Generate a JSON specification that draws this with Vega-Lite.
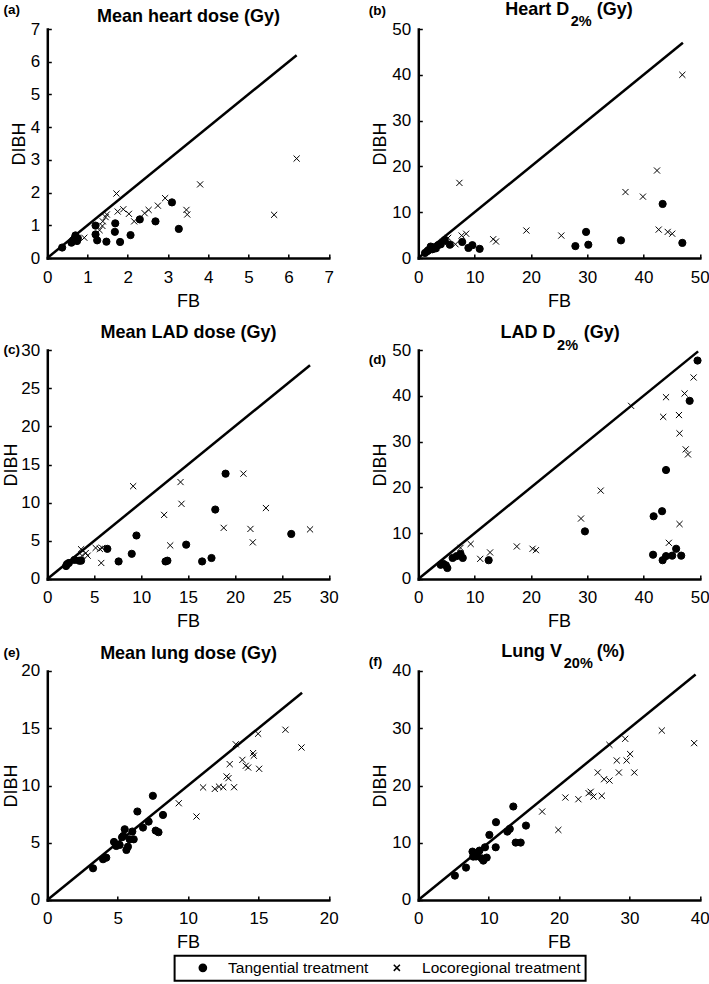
{
  "$schema": "https://vega.github.io/schema/vega-lite/v6.json",
  "padding": {"left": 1.3, "top": 0, "right": 2, "bottom": 0},
  "bounds": "flush",
  "columns": 2,
  "spacing": {"row": 92, "column": 89},
  "resolve": {"scale": {"shape": "shared"}, "legend": {"shape": "shared"}},
  "datasets": {
    "a_line": [{"fb": 0, "dibh": 0}, {"fb": 6.2, "dibh": 6.2}],
    "b_line": [{"fb": 0, "dibh": 0}, {"fb": 47, "dibh": 47}],
    "c_line": [{"fb": 0, "dibh": 0}, {"fb": 28, "dibh": 28}],
    "d_line": [{"fb": 0, "dibh": 0}, {"fb": 49.7, "dibh": 49.7}],
    "e_line": [{"fb": 0, "dibh": 0}, {"fb": 18.1, "dibh": 18.1}],
    "f_line": [{"fb": 0, "dibh": 0}, {"fb": 39.4, "dibh": 39.4}],
    "a_pts": [
      {"fb": 0.37, "dibh": 0.32, "group": "Tangential treatment"},
      {"fb": 0.6, "dibh": 0.47, "group": "Tangential treatment"},
      {"fb": 0.64, "dibh": 0.54, "group": "Tangential treatment"},
      {"fb": 0.68, "dibh": 0.6, "group": "Tangential treatment"},
      {"fb": 0.7, "dibh": 0.69, "group": "Tangential treatment"},
      {"fb": 0.74, "dibh": 0.52, "group": "Tangential treatment"},
      {"fb": 0.76, "dibh": 0.6, "group": "Tangential treatment"},
      {"fb": 1.2, "dibh": 0.99, "group": "Tangential treatment"},
      {"fb": 1.2, "dibh": 0.72, "group": "Tangential treatment"},
      {"fb": 1.24, "dibh": 0.54, "group": "Tangential treatment"},
      {"fb": 1.47, "dibh": 0.5, "group": "Tangential treatment"},
      {"fb": 1.69, "dibh": 1.06, "group": "Tangential treatment"},
      {"fb": 1.68, "dibh": 0.8, "group": "Tangential treatment"},
      {"fb": 1.81, "dibh": 0.49, "group": "Tangential treatment"},
      {"fb": 2.07, "dibh": 0.7, "group": "Tangential treatment"},
      {"fb": 2.3, "dibh": 1.18, "group": "Tangential treatment"},
      {"fb": 2.69, "dibh": 1.12, "group": "Tangential treatment"},
      {"fb": 3.1, "dibh": 1.7, "group": "Tangential treatment"},
      {"fb": 3.27, "dibh": 0.89, "group": "Tangential treatment"},
      {"fb": 0.92, "dibh": 0.62, "group": "Locoregional treatment"},
      {"fb": 1.3, "dibh": 0.85, "group": "Locoregional treatment"},
      {"fb": 1.37, "dibh": 0.98, "group": "Locoregional treatment"},
      {"fb": 1.38, "dibh": 1.12, "group": "Locoregional treatment"},
      {"fb": 1.45, "dibh": 1.25, "group": "Locoregional treatment"},
      {"fb": 1.48, "dibh": 1.33, "group": "Locoregional treatment"},
      {"fb": 1.72, "dibh": 1.97, "group": "Locoregional treatment"},
      {"fb": 1.75, "dibh": 1.42, "group": "Locoregional treatment"},
      {"fb": 1.89, "dibh": 1.49, "group": "Locoregional treatment"},
      {"fb": 2.03, "dibh": 1.35, "group": "Locoregional treatment"},
      {"fb": 2.16, "dibh": 1.12, "group": "Locoregional treatment"},
      {"fb": 2.42, "dibh": 1.37, "group": "Locoregional treatment"},
      {"fb": 2.52, "dibh": 1.47, "group": "Locoregional treatment"},
      {"fb": 2.75, "dibh": 1.6, "group": "Locoregional treatment"},
      {"fb": 2.93, "dibh": 1.83, "group": "Locoregional treatment"},
      {"fb": 3.46, "dibh": 1.47, "group": "Locoregional treatment"},
      {"fb": 3.48, "dibh": 1.33, "group": "Locoregional treatment"},
      {"fb": 3.8, "dibh": 2.25, "group": "Locoregional treatment"},
      {"fb": 5.64, "dibh": 1.32, "group": "Locoregional treatment"},
      {"fb": 6.2, "dibh": 3.04, "group": "Locoregional treatment"}
    ],
    "b_pts": [
      {"fb": 1.2, "dibh": 1.1, "group": "Tangential treatment"},
      {"fb": 1.6, "dibh": 1.5, "group": "Tangential treatment"},
      {"fb": 1.8, "dibh": 1.7, "group": "Tangential treatment"},
      {"fb": 2.2, "dibh": 2.5, "group": "Tangential treatment"},
      {"fb": 2.5, "dibh": 1.9, "group": "Tangential treatment"},
      {"fb": 2.8, "dibh": 2.3, "group": "Tangential treatment"},
      {"fb": 3.1, "dibh": 2.1, "group": "Tangential treatment"},
      {"fb": 3.5, "dibh": 2.8, "group": "Tangential treatment"},
      {"fb": 4.0, "dibh": 3.0, "group": "Tangential treatment"},
      {"fb": 4.7, "dibh": 3.9, "group": "Tangential treatment"},
      {"fb": 5.6, "dibh": 2.9, "group": "Tangential treatment"},
      {"fb": 7.8, "dibh": 3.5, "group": "Tangential treatment"},
      {"fb": 8.9, "dibh": 2.2, "group": "Tangential treatment"},
      {"fb": 9.6, "dibh": 2.8, "group": "Tangential treatment"},
      {"fb": 10.9, "dibh": 2.0, "group": "Tangential treatment"},
      {"fb": 27.9, "dibh": 2.6, "group": "Tangential treatment"},
      {"fb": 29.8, "dibh": 5.7, "group": "Tangential treatment"},
      {"fb": 30.2, "dibh": 2.9, "group": "Tangential treatment"},
      {"fb": 36.0, "dibh": 3.85, "group": "Tangential treatment"},
      {"fb": 43.4, "dibh": 11.8, "group": "Tangential treatment"},
      {"fb": 46.9, "dibh": 3.3, "group": "Tangential treatment"},
      {"fb": 3.2, "dibh": 2.4, "group": "Locoregional treatment"},
      {"fb": 4.4, "dibh": 3.5, "group": "Locoregional treatment"},
      {"fb": 5.3, "dibh": 4.4, "group": "Locoregional treatment"},
      {"fb": 6.6, "dibh": 3.0, "group": "Locoregional treatment"},
      {"fb": 7.3, "dibh": 16.4, "group": "Locoregional treatment"},
      {"fb": 7.7, "dibh": 4.9, "group": "Locoregional treatment"},
      {"fb": 8.5, "dibh": 5.3, "group": "Locoregional treatment"},
      {"fb": 13.3, "dibh": 4.1, "group": "Locoregional treatment"},
      {"fb": 13.8, "dibh": 3.6, "group": "Locoregional treatment"},
      {"fb": 19.2, "dibh": 6.0, "group": "Locoregional treatment"},
      {"fb": 25.4, "dibh": 4.9, "group": "Locoregional treatment"},
      {"fb": 36.8, "dibh": 14.4, "group": "Locoregional treatment"},
      {"fb": 39.9, "dibh": 13.4, "group": "Locoregional treatment"},
      {"fb": 42.4, "dibh": 19.1, "group": "Locoregional treatment"},
      {"fb": 42.7, "dibh": 6.2, "group": "Locoregional treatment"},
      {"fb": 44.3, "dibh": 5.7, "group": "Locoregional treatment"},
      {"fb": 45.1, "dibh": 5.3, "group": "Locoregional treatment"},
      {"fb": 46.9, "dibh": 40.0, "group": "Locoregional treatment"}
    ],
    "c_pts": [
      {"fb": 2.0, "dibh": 1.7, "group": "Tangential treatment"},
      {"fb": 2.1, "dibh": 1.95, "group": "Tangential treatment"},
      {"fb": 2.3, "dibh": 2.1, "group": "Tangential treatment"},
      {"fb": 2.9, "dibh": 2.5, "group": "Tangential treatment"},
      {"fb": 3.4, "dibh": 2.4, "group": "Tangential treatment"},
      {"fb": 3.6, "dibh": 2.4, "group": "Tangential treatment"},
      {"fb": 6.4, "dibh": 3.95, "group": "Tangential treatment"},
      {"fb": 7.6, "dibh": 2.3, "group": "Tangential treatment"},
      {"fb": 9.0, "dibh": 3.3, "group": "Tangential treatment"},
      {"fb": 9.5, "dibh": 5.7, "group": "Tangential treatment"},
      {"fb": 12.6, "dibh": 2.3, "group": "Tangential treatment"},
      {"fb": 12.8, "dibh": 2.4, "group": "Tangential treatment"},
      {"fb": 14.8, "dibh": 4.5, "group": "Tangential treatment"},
      {"fb": 16.5, "dibh": 2.3, "group": "Tangential treatment"},
      {"fb": 17.5, "dibh": 2.75, "group": "Tangential treatment"},
      {"fb": 17.9, "dibh": 9.1, "group": "Tangential treatment"},
      {"fb": 19.0, "dibh": 13.8, "group": "Tangential treatment"},
      {"fb": 26.0, "dibh": 5.9, "group": "Tangential treatment"},
      {"fb": 3.6, "dibh": 3.9, "group": "Locoregional treatment"},
      {"fb": 3.7, "dibh": 3.06, "group": "Locoregional treatment"},
      {"fb": 4.1, "dibh": 3.4, "group": "Locoregional treatment"},
      {"fb": 4.3, "dibh": 3.06, "group": "Locoregional treatment"},
      {"fb": 5.15, "dibh": 4.07, "group": "Locoregional treatment"},
      {"fb": 5.6, "dibh": 3.94, "group": "Locoregional treatment"},
      {"fb": 5.75, "dibh": 2.1, "group": "Locoregional treatment"},
      {"fb": 5.85, "dibh": 4.07, "group": "Locoregional treatment"},
      {"fb": 9.15, "dibh": 12.16, "group": "Locoregional treatment"},
      {"fb": 12.45, "dibh": 8.4, "group": "Locoregional treatment"},
      {"fb": 13.1, "dibh": 4.4, "group": "Locoregional treatment"},
      {"fb": 14.2, "dibh": 12.7, "group": "Locoregional treatment"},
      {"fb": 14.3, "dibh": 9.85, "group": "Locoregional treatment"},
      {"fb": 18.8, "dibh": 6.7, "group": "Locoregional treatment"},
      {"fb": 20.9, "dibh": 13.8, "group": "Locoregional treatment"},
      {"fb": 21.65, "dibh": 6.56, "group": "Locoregional treatment"},
      {"fb": 21.9, "dibh": 4.8, "group": "Locoregional treatment"},
      {"fb": 23.3, "dibh": 9.3, "group": "Locoregional treatment"},
      {"fb": 28.0, "dibh": 6.5, "group": "Locoregional treatment"}
    ],
    "d_pts": [
      {"fb": 3.97, "dibh": 3.1, "group": "Tangential treatment"},
      {"fb": 4.45, "dibh": 3.3, "group": "Tangential treatment"},
      {"fb": 4.9, "dibh": 3.0, "group": "Tangential treatment"},
      {"fb": 5.16, "dibh": 2.4, "group": "Tangential treatment"},
      {"fb": 6.1, "dibh": 4.6, "group": "Tangential treatment"},
      {"fb": 6.8, "dibh": 5.0, "group": "Tangential treatment"},
      {"fb": 7.5, "dibh": 5.5, "group": "Tangential treatment"},
      {"fb": 7.9, "dibh": 4.6, "group": "Tangential treatment"},
      {"fb": 12.5, "dibh": 4.1, "group": "Tangential treatment"},
      {"fb": 29.6, "dibh": 10.4, "group": "Tangential treatment"},
      {"fb": 41.7, "dibh": 5.3, "group": "Tangential treatment"},
      {"fb": 41.8, "dibh": 13.7, "group": "Tangential treatment"},
      {"fb": 43.3, "dibh": 14.8, "group": "Tangential treatment"},
      {"fb": 43.4, "dibh": 4.1, "group": "Tangential treatment"},
      {"fb": 44.0, "dibh": 23.8, "group": "Tangential treatment"},
      {"fb": 44.0, "dibh": 5.0, "group": "Tangential treatment"},
      {"fb": 45.1, "dibh": 5.1, "group": "Tangential treatment"},
      {"fb": 45.8, "dibh": 6.6, "group": "Tangential treatment"},
      {"fb": 46.7, "dibh": 5.1, "group": "Tangential treatment"},
      {"fb": 48.2, "dibh": 38.9, "group": "Tangential treatment"},
      {"fb": 49.6, "dibh": 47.7, "group": "Tangential treatment"},
      {"fb": 7.5, "dibh": 6.8, "group": "Locoregional treatment"},
      {"fb": 9.3, "dibh": 7.65, "group": "Locoregional treatment"},
      {"fb": 11.0, "dibh": 4.4, "group": "Locoregional treatment"},
      {"fb": 12.75, "dibh": 5.8, "group": "Locoregional treatment"},
      {"fb": 17.5, "dibh": 7.1, "group": "Locoregional treatment"},
      {"fb": 20.3, "dibh": 6.6, "group": "Locoregional treatment"},
      {"fb": 20.9, "dibh": 6.3, "group": "Locoregional treatment"},
      {"fb": 28.9, "dibh": 13.2, "group": "Locoregional treatment"},
      {"fb": 32.4, "dibh": 19.3, "group": "Locoregional treatment"},
      {"fb": 37.8, "dibh": 37.8, "group": "Locoregional treatment"},
      {"fb": 43.5, "dibh": 35.4, "group": "Locoregional treatment"},
      {"fb": 44.0, "dibh": 39.7, "group": "Locoregional treatment"},
      {"fb": 44.5, "dibh": 7.9, "group": "Locoregional treatment"},
      {"fb": 46.3, "dibh": 35.8, "group": "Locoregional treatment"},
      {"fb": 46.4, "dibh": 31.8, "group": "Locoregional treatment"},
      {"fb": 46.4, "dibh": 12.0, "group": "Locoregional treatment"},
      {"fb": 47.3, "dibh": 40.5, "group": "Locoregional treatment"},
      {"fb": 47.5, "dibh": 28.3, "group": "Locoregional treatment"},
      {"fb": 47.9, "dibh": 27.2, "group": "Locoregional treatment"},
      {"fb": 48.9, "dibh": 44.0, "group": "Locoregional treatment"}
    ],
    "e_pts": [
      {"fb": 3.25, "dibh": 2.77, "group": "Tangential treatment"},
      {"fb": 3.96, "dibh": 3.56, "group": "Tangential treatment"},
      {"fb": 4.19, "dibh": 3.7, "group": "Tangential treatment"},
      {"fb": 4.74, "dibh": 5.07, "group": "Tangential treatment"},
      {"fb": 4.9, "dibh": 4.72, "group": "Tangential treatment"},
      {"fb": 5.14, "dibh": 4.81, "group": "Tangential treatment"},
      {"fb": 5.31, "dibh": 5.48, "group": "Tangential treatment"},
      {"fb": 5.4, "dibh": 5.6, "group": "Tangential treatment"},
      {"fb": 5.5, "dibh": 6.18, "group": "Tangential treatment"},
      {"fb": 5.62, "dibh": 4.37, "group": "Tangential treatment"},
      {"fb": 5.73, "dibh": 4.66, "group": "Tangential treatment"},
      {"fb": 5.85, "dibh": 5.3, "group": "Tangential treatment"},
      {"fb": 6.04, "dibh": 5.98, "group": "Tangential treatment"},
      {"fb": 6.14, "dibh": 5.3, "group": "Tangential treatment"},
      {"fb": 6.4, "dibh": 7.73, "group": "Tangential treatment"},
      {"fb": 6.8, "dibh": 6.33, "group": "Tangential treatment"},
      {"fb": 7.2, "dibh": 6.85, "group": "Tangential treatment"},
      {"fb": 7.5, "dibh": 9.1, "group": "Tangential treatment"},
      {"fb": 7.7, "dibh": 6.06, "group": "Tangential treatment"},
      {"fb": 7.9, "dibh": 5.92, "group": "Tangential treatment"},
      {"fb": 8.22, "dibh": 7.43, "group": "Tangential treatment"},
      {"fb": 9.34, "dibh": 8.45, "group": "Locoregional treatment"},
      {"fb": 10.6, "dibh": 7.29, "group": "Locoregional treatment"},
      {"fb": 11.07, "dibh": 9.83, "group": "Locoregional treatment"},
      {"fb": 11.9, "dibh": 9.7, "group": "Locoregional treatment"},
      {"fb": 12.2, "dibh": 9.9, "group": "Locoregional treatment"},
      {"fb": 12.5, "dibh": 9.85, "group": "Locoregional treatment"},
      {"fb": 12.74, "dibh": 10.79, "group": "Locoregional treatment"},
      {"fb": 12.87, "dibh": 10.64, "group": "Locoregional treatment"},
      {"fb": 12.96, "dibh": 11.87, "group": "Locoregional treatment"},
      {"fb": 13.27, "dibh": 9.85, "group": "Locoregional treatment"},
      {"fb": 13.39, "dibh": 13.6, "group": "Locoregional treatment"},
      {"fb": 13.86, "dibh": 12.24, "group": "Locoregional treatment"},
      {"fb": 14.1, "dibh": 11.72, "group": "Locoregional treatment"},
      {"fb": 14.27, "dibh": 11.57, "group": "Locoregional treatment"},
      {"fb": 14.62, "dibh": 12.83, "group": "Locoregional treatment"},
      {"fb": 14.67, "dibh": 12.6, "group": "Locoregional treatment"},
      {"fb": 14.98, "dibh": 14.52, "group": "Locoregional treatment"},
      {"fb": 15.05, "dibh": 11.46, "group": "Locoregional treatment"},
      {"fb": 16.92, "dibh": 14.87, "group": "Locoregional treatment"},
      {"fb": 18.06, "dibh": 13.32, "group": "Locoregional treatment"}
    ],
    "f_pts": [
      {"fb": 5.2, "dibh": 4.26, "group": "Tangential treatment"},
      {"fb": 6.78, "dibh": 5.66, "group": "Tangential treatment"},
      {"fb": 7.7, "dibh": 8.45, "group": "Tangential treatment"},
      {"fb": 7.8, "dibh": 7.58, "group": "Tangential treatment"},
      {"fb": 8.2, "dibh": 7.6, "group": "Tangential treatment"},
      {"fb": 8.4, "dibh": 8.28, "group": "Tangential treatment"},
      {"fb": 8.7, "dibh": 8.63, "group": "Tangential treatment"},
      {"fb": 9.0, "dibh": 7.29, "group": "Tangential treatment"},
      {"fb": 9.24, "dibh": 6.88, "group": "Tangential treatment"},
      {"fb": 9.48, "dibh": 9.21, "group": "Tangential treatment"},
      {"fb": 9.72, "dibh": 7.41, "group": "Tangential treatment"},
      {"fb": 10.1, "dibh": 11.37, "group": "Tangential treatment"},
      {"fb": 11.0, "dibh": 9.21, "group": "Tangential treatment"},
      {"fb": 11.04, "dibh": 13.59, "group": "Tangential treatment"},
      {"fb": 12.65, "dibh": 11.95, "group": "Tangential treatment"},
      {"fb": 13.0, "dibh": 12.42, "group": "Tangential treatment"},
      {"fb": 13.5, "dibh": 16.33, "group": "Tangential treatment"},
      {"fb": 13.84, "dibh": 10.03, "group": "Tangential treatment"},
      {"fb": 14.55, "dibh": 10.03, "group": "Tangential treatment"},
      {"fb": 15.3, "dibh": 13.0, "group": "Tangential treatment"},
      {"fb": 17.6, "dibh": 15.45, "group": "Locoregional treatment"},
      {"fb": 19.9, "dibh": 12.24, "group": "Locoregional treatment"},
      {"fb": 20.9, "dibh": 17.9, "group": "Locoregional treatment"},
      {"fb": 22.75, "dibh": 17.6, "group": "Locoregional treatment"},
      {"fb": 24.2, "dibh": 18.66, "group": "Locoregional treatment"},
      {"fb": 24.5, "dibh": 18.9, "group": "Locoregional treatment"},
      {"fb": 24.9, "dibh": 18.07, "group": "Locoregional treatment"},
      {"fb": 26.07, "dibh": 18.2, "group": "Locoregional treatment"},
      {"fb": 25.5, "dibh": 22.27, "group": "Locoregional treatment"},
      {"fb": 26.4, "dibh": 21.1, "group": "Locoregional treatment"},
      {"fb": 27.16, "dibh": 20.87, "group": "Locoregional treatment"},
      {"fb": 27.16, "dibh": 27.1, "group": "Locoregional treatment"},
      {"fb": 28.2, "dibh": 24.37, "group": "Locoregional treatment"},
      {"fb": 28.5, "dibh": 22.27, "group": "Locoregional treatment"},
      {"fb": 29.4, "dibh": 28.16, "group": "Locoregional treatment"},
      {"fb": 29.6, "dibh": 24.37, "group": "Locoregional treatment"},
      {"fb": 30.1, "dibh": 25.5, "group": "Locoregional treatment"},
      {"fb": 30.7, "dibh": 22.27, "group": "Locoregional treatment"},
      {"fb": 34.6, "dibh": 29.6, "group": "Locoregional treatment"},
      {"fb": 39.2, "dibh": 27.4, "group": "Locoregional treatment"}
    ]
  },
  "concat": [
    {
      "width": 281.5, "height": 229,
      "resolve": {"axis": {"x": "independent", "y": "independent"}},
      "layer": [
        {"data": {"name": "a_line"}, "mark": {"type": "line", "color": "black", "strokeWidth": 2.5, "strokeCap": "butt"},
         "encoding": {
           "x": {"field": "fb", "type": "quantitative", "scale": {"domain": [0, 7], "nice": false}, "axis": {"values": [0, 1, 2, 3, 4, 5, 6, 7], "title": "FB"}},
           "y": {"field": "dibh", "type": "quantitative", "scale": {"domain": [0, 7], "nice": false}, "axis": {"values": [0, 1, 2, 3, 4, 5, 6, 7], "title": "DIBH"}}}},
        {"data": {"name": "a_pts"}, "mark": {"type": "point", "filled": true, "fill": "black", "stroke": "black", "strokeWidth": 1, "opacity": 1, "size": 52},
         "encoding": {
           "x": {"field": "fb", "type": "quantitative", "scale": {"domain": [0, 7], "nice": false}, "axis": null},
           "y": {"field": "dibh", "type": "quantitative", "scale": {"domain": [0, 7], "nice": false}, "axis": null},
           "shape": {"field": "group", "type": "nominal", "scale": {"domain": ["Tangential treatment", "Locoregional treatment"], "range": ["circle", "M-0.85,-0.85L0.85,0.85M-0.85,0.85L0.85,-0.85"]}, "legend": {"title": null, "encode": {"symbols": {"update": {"stroke": {"value": "black"}, "strokeWidth": {"value": 1}, "fill": {"value": "black"}}}}}}}},
        {"data": {"name": "a_line"}, "mark": {"type": "line", "opacity": 0},
         "encoding": {
           "x": {"field": "fb", "type": "quantitative", "scale": {"domain": [0, 7], "nice": false}, "axis": {"orient": "top", "domain": false, "ticks": false, "labels": false, "title": "(a)", "titleX": -44.4, "titleY": -15.4, "titleAlign": "left", "titleBaseline": "alphabetic", "titleAngle": 0, "titleFontSize": 13.5, "titleFontWeight": "bold"}},
           "y": {"field": "dibh", "type": "quantitative", "scale": {"domain": [0, 7], "nice": false}, "axis": null}}},
        {"data": {"name": "a_line"}, "mark": {"type": "line", "opacity": 0},
         "encoding": {
           "x": {"field": "fb", "type": "quantitative", "scale": {"domain": [0, 7], "nice": false}, "axis": {"orient": "top", "domain": false, "ticks": false, "labels": false, "title": "Mean heart dose (Gy)", "titleX": 140.75, "titleY": -7.8, "titleAlign": "center", "titleBaseline": "alphabetic", "titleAngle": 0, "titleFontSize": 18, "titleFontWeight": "bold"}},
           "y": {"field": "dibh", "type": "quantitative", "scale": {"domain": [0, 7], "nice": false}, "axis": null}}}
      ]
    },
    {
      "width": 281.5, "height": 229,
      "resolve": {"axis": {"x": "independent", "y": "independent"}},
      "layer": [
        {"data": {"name": "b_line"}, "mark": {"type": "line", "color": "black", "strokeWidth": 2.5, "strokeCap": "butt"},
         "encoding": {
           "x": {"field": "fb", "type": "quantitative", "scale": {"domain": [0, 50], "nice": false}, "axis": {"values": [0, 10, 20, 30, 40, 50], "title": "FB"}},
           "y": {"field": "dibh", "type": "quantitative", "scale": {"domain": [0, 50], "nice": false}, "axis": {"values": [0, 10, 20, 30, 40, 50], "title": "DIBH"}}}},
        {"data": {"name": "b_pts"}, "mark": {"type": "point", "filled": true, "fill": "black", "stroke": "black", "strokeWidth": 1, "opacity": 1, "size": 52},
         "encoding": {
           "x": {"field": "fb", "type": "quantitative", "scale": {"domain": [0, 50], "nice": false}, "axis": null},
           "y": {"field": "dibh", "type": "quantitative", "scale": {"domain": [0, 50], "nice": false}, "axis": null},
           "shape": {"field": "group", "type": "nominal", "scale": {"domain": ["Tangential treatment", "Locoregional treatment"], "range": ["circle", "M-0.85,-0.85L0.85,0.85M-0.85,0.85L0.85,-0.85"]}, "legend": {"title": null, "encode": {"symbols": {"update": {"stroke": {"value": "black"}, "strokeWidth": {"value": 1}, "fill": {"value": "black"}}}}}}}},
        {"data": {"name": "b_line"}, "mark": {"type": "line", "opacity": 0},
         "encoding": {
           "x": {"field": "fb", "type": "quantitative", "scale": {"domain": [0, 50], "nice": false}, "axis": {"orient": "top", "domain": false, "ticks": false, "labels": false, "title": "(b)", "titleX": -50, "titleY": -15, "titleAlign": "left", "titleBaseline": "alphabetic", "titleAngle": 0, "titleFontSize": 13.5, "titleFontWeight": "bold"}},
           "y": {"field": "dibh", "type": "quantitative", "scale": {"domain": [0, 50], "nice": false}, "axis": null}}},
        {"data": {"name": "b_line"}, "mark": {"type": "line", "opacity": 0},
         "encoding": {
           "x": {"field": "fb", "type": "quantitative", "scale": {"domain": [0, 50], "nice": false}, "axis": {"orient": "top", "domain": false, "ticks": false, "labels": false, "title": "Heart D", "titleX": 150.5, "titleY": -14.5, "titleAlign": "right", "titleBaseline": "alphabetic", "titleAngle": 0, "titleFontSize": 18, "titleFontWeight": "bold"}},
           "y": {"field": "dibh", "type": "quantitative", "scale": {"domain": [0, 50], "nice": false}, "axis": null}}},
        {"data": {"name": "b_line"}, "mark": {"type": "line", "opacity": 0},
         "encoding": {
           "x": {"field": "fb", "type": "quantitative", "scale": {"domain": [0, 50], "nice": false}, "axis": {"orient": "top", "domain": false, "ticks": false, "labels": false, "title": "2%", "titleX": 152, "titleY": -4, "titleAlign": "left", "titleBaseline": "alphabetic", "titleAngle": 0, "titleFontSize": 14.5, "titleFontWeight": "bold"}},
           "y": {"field": "dibh", "type": "quantitative", "scale": {"domain": [0, 50], "nice": false}, "axis": null}}},
        {"data": {"name": "b_line"}, "mark": {"type": "line", "opacity": 0},
         "encoding": {
           "x": {"field": "fb", "type": "quantitative", "scale": {"domain": [0, 50], "nice": false}, "axis": {"orient": "top", "domain": false, "ticks": false, "labels": false, "title": "(Gy)", "titleX": 178, "titleY": -14.5, "titleAlign": "left", "titleBaseline": "alphabetic", "titleAngle": 0, "titleFontSize": 18, "titleFontWeight": "bold"}},
           "y": {"field": "dibh", "type": "quantitative", "scale": {"domain": [0, 50], "nice": false}, "axis": null}}}
      ]
    },
    {
      "width": 281.5, "height": 229,
      "resolve": {"axis": {"x": "independent", "y": "independent"}},
      "layer": [
        {"data": {"name": "c_line"}, "mark": {"type": "line", "color": "black", "strokeWidth": 2.5, "strokeCap": "butt"},
         "encoding": {
           "x": {"field": "fb", "type": "quantitative", "scale": {"domain": [0, 30], "nice": false}, "axis": {"values": [0, 5, 10, 15, 20, 25, 30], "title": "FB"}},
           "y": {"field": "dibh", "type": "quantitative", "scale": {"domain": [0, 30], "nice": false}, "axis": {"values": [0, 5, 10, 15, 20, 25, 30], "title": "DIBH", "titlePadding": 0.5}}}},
        {"data": {"name": "c_pts"}, "mark": {"type": "point", "filled": true, "fill": "black", "stroke": "black", "strokeWidth": 1, "opacity": 1, "size": 52},
         "encoding": {
           "x": {"field": "fb", "type": "quantitative", "scale": {"domain": [0, 30], "nice": false}, "axis": null},
           "y": {"field": "dibh", "type": "quantitative", "scale": {"domain": [0, 30], "nice": false}, "axis": null},
           "shape": {"field": "group", "type": "nominal", "scale": {"domain": ["Tangential treatment", "Locoregional treatment"], "range": ["circle", "M-0.85,-0.85L0.85,0.85M-0.85,0.85L0.85,-0.85"]}, "legend": {"title": null, "encode": {"symbols": {"update": {"stroke": {"value": "black"}, "strokeWidth": {"value": 1}, "fill": {"value": "black"}}}}}}}},
        {"data": {"name": "c_line"}, "mark": {"type": "line", "opacity": 0},
         "encoding": {
           "x": {"field": "fb", "type": "quantitative", "scale": {"domain": [0, 30], "nice": false}, "axis": {"orient": "top", "domain": false, "ticks": false, "labels": false, "title": "(c)", "titleX": -44.4, "titleY": 3.2, "titleAlign": "left", "titleBaseline": "alphabetic", "titleAngle": 0, "titleFontSize": 13.5, "titleFontWeight": "bold"}},
           "y": {"field": "dibh", "type": "quantitative", "scale": {"domain": [0, 30], "nice": false}, "axis": null}}},
        {"data": {"name": "c_line"}, "mark": {"type": "line", "opacity": 0},
         "encoding": {
           "x": {"field": "fb", "type": "quantitative", "scale": {"domain": [0, 30], "nice": false}, "axis": {"orient": "top", "domain": false, "ticks": false, "labels": false, "title": "Mean LAD dose (Gy)", "titleX": 140.75, "titleY": -12.2, "titleAlign": "center", "titleBaseline": "alphabetic", "titleAngle": 0, "titleFontSize": 18, "titleFontWeight": "bold"}},
           "y": {"field": "dibh", "type": "quantitative", "scale": {"domain": [0, 30], "nice": false}, "axis": null}}}
      ]
    },
    {
      "width": 281.5, "height": 229,
      "resolve": {"axis": {"x": "independent", "y": "independent"}},
      "layer": [
        {"data": {"name": "d_line"}, "mark": {"type": "line", "color": "black", "strokeWidth": 2.5, "strokeCap": "butt"},
         "encoding": {
           "x": {"field": "fb", "type": "quantitative", "scale": {"domain": [0, 50], "nice": false}, "axis": {"values": [0, 10, 20, 30, 40, 50], "title": "FB"}},
           "y": {"field": "dibh", "type": "quantitative", "scale": {"domain": [0, 50], "nice": false}, "axis": {"values": [0, 10, 20, 30, 40, 50], "title": "DIBH"}}}},
        {"data": {"name": "d_pts"}, "mark": {"type": "point", "filled": true, "fill": "black", "stroke": "black", "strokeWidth": 1, "opacity": 1, "size": 52},
         "encoding": {
           "x": {"field": "fb", "type": "quantitative", "scale": {"domain": [0, 50], "nice": false}, "axis": null},
           "y": {"field": "dibh", "type": "quantitative", "scale": {"domain": [0, 50], "nice": false}, "axis": null},
           "shape": {"field": "group", "type": "nominal", "scale": {"domain": ["Tangential treatment", "Locoregional treatment"], "range": ["circle", "M-0.85,-0.85L0.85,0.85M-0.85,0.85L0.85,-0.85"]}, "legend": {"title": null, "encode": {"symbols": {"update": {"stroke": {"value": "black"}, "strokeWidth": {"value": 1}, "fill": {"value": "black"}}}}}}}},
        {"data": {"name": "d_line"}, "mark": {"type": "line", "opacity": 0},
         "encoding": {
           "x": {"field": "fb", "type": "quantitative", "scale": {"domain": [0, 50], "nice": false}, "axis": {"orient": "top", "domain": false, "ticks": false, "labels": false, "title": "(d)", "titleX": -50, "titleY": 13.3, "titleAlign": "left", "titleBaseline": "alphabetic", "titleAngle": 0, "titleFontSize": 13.5, "titleFontWeight": "bold"}},
           "y": {"field": "dibh", "type": "quantitative", "scale": {"domain": [0, 50], "nice": false}, "axis": null}}},
        {"data": {"name": "d_line"}, "mark": {"type": "line", "opacity": 0},
         "encoding": {
           "x": {"field": "fb", "type": "quantitative", "scale": {"domain": [0, 50], "nice": false}, "axis": {"orient": "top", "domain": false, "ticks": false, "labels": false, "title": "LAD D", "titleX": 136.7, "titleY": -12.4, "titleAlign": "right", "titleBaseline": "alphabetic", "titleAngle": 0, "titleFontSize": 18, "titleFontWeight": "bold"}},
           "y": {"field": "dibh", "type": "quantitative", "scale": {"domain": [0, 50], "nice": false}, "axis": null}}},
        {"data": {"name": "d_line"}, "mark": {"type": "line", "opacity": 0},
         "encoding": {
           "x": {"field": "fb", "type": "quantitative", "scale": {"domain": [0, 50], "nice": false}, "axis": {"orient": "top", "domain": false, "ticks": false, "labels": false, "title": "2%", "titleX": 138.3, "titleY": -0.9, "titleAlign": "left", "titleBaseline": "alphabetic", "titleAngle": 0, "titleFontSize": 14.5, "titleFontWeight": "bold"}},
           "y": {"field": "dibh", "type": "quantitative", "scale": {"domain": [0, 50], "nice": false}, "axis": null}}},
        {"data": {"name": "d_line"}, "mark": {"type": "line", "opacity": 0},
         "encoding": {
           "x": {"field": "fb", "type": "quantitative", "scale": {"domain": [0, 50], "nice": false}, "axis": {"orient": "top", "domain": false, "ticks": false, "labels": false, "title": "(Gy)", "titleX": 165, "titleY": -12.4, "titleAlign": "left", "titleBaseline": "alphabetic", "titleAngle": 0, "titleFontSize": 18, "titleFontWeight": "bold"}},
           "y": {"field": "dibh", "type": "quantitative", "scale": {"domain": [0, 50], "nice": false}, "axis": null}}}
      ]
    },
    {
      "width": 281.5, "height": 229,
      "resolve": {"axis": {"x": "independent", "y": "independent"}},
      "layer": [
        {"data": {"name": "e_line"}, "mark": {"type": "line", "color": "black", "strokeWidth": 2.5, "strokeCap": "butt"},
         "encoding": {
           "x": {"field": "fb", "type": "quantitative", "scale": {"domain": [0, 20], "nice": false}, "axis": {"values": [0, 5, 10, 15, 20], "title": "FB"}},
           "y": {"field": "dibh", "type": "quantitative", "scale": {"domain": [0, 20], "nice": false}, "axis": {"values": [0, 5, 10, 15, 20], "title": "DIBH", "titlePadding": 0.5}}}},
        {"data": {"name": "e_pts"}, "mark": {"type": "point", "filled": true, "fill": "black", "stroke": "black", "strokeWidth": 1, "opacity": 1, "size": 52},
         "encoding": {
           "x": {"field": "fb", "type": "quantitative", "scale": {"domain": [0, 20], "nice": false}, "axis": null},
           "y": {"field": "dibh", "type": "quantitative", "scale": {"domain": [0, 20], "nice": false}, "axis": null},
           "shape": {"field": "group", "type": "nominal", "scale": {"domain": ["Tangential treatment", "Locoregional treatment"], "range": ["circle", "M-0.85,-0.85L0.85,0.85M-0.85,0.85L0.85,-0.85"]}, "legend": {"title": null, "encode": {"symbols": {"update": {"stroke": {"value": "black"}, "strokeWidth": {"value": 1}, "fill": {"value": "black"}}}}}}}},
        {"data": {"name": "e_line"}, "mark": {"type": "line", "opacity": 0},
         "encoding": {
           "x": {"field": "fb", "type": "quantitative", "scale": {"domain": [0, 20], "nice": false}, "axis": {"orient": "top", "domain": false, "ticks": false, "labels": false, "title": "(e)", "titleX": -44.4, "titleY": -14.1, "titleAlign": "left", "titleBaseline": "alphabetic", "titleAngle": 0, "titleFontSize": 13.5, "titleFontWeight": "bold"}},
           "y": {"field": "dibh", "type": "quantitative", "scale": {"domain": [0, 20], "nice": false}, "axis": null}}},
        {"data": {"name": "e_line"}, "mark": {"type": "line", "opacity": 0},
         "encoding": {
           "x": {"field": "fb", "type": "quantitative", "scale": {"domain": [0, 20], "nice": false}, "axis": {"orient": "top", "domain": false, "ticks": false, "labels": false, "title": "Mean lung dose (Gy)", "titleX": 140.75, "titleY": -12.5, "titleAlign": "center", "titleBaseline": "alphabetic", "titleAngle": 0, "titleFontSize": 18, "titleFontWeight": "bold"}},
           "y": {"field": "dibh", "type": "quantitative", "scale": {"domain": [0, 20], "nice": false}, "axis": null}}}
      ]
    },
    {
      "width": 281.5, "height": 229,
      "resolve": {"axis": {"x": "independent", "y": "independent"}},
      "layer": [
        {"data": {"name": "f_line"}, "mark": {"type": "line", "color": "black", "strokeWidth": 2.5, "strokeCap": "butt"},
         "encoding": {
           "x": {"field": "fb", "type": "quantitative", "scale": {"domain": [0, 40], "nice": false}, "axis": {"values": [0, 10, 20, 30, 40], "title": "FB"}},
           "y": {"field": "dibh", "type": "quantitative", "scale": {"domain": [0, 40], "nice": false}, "axis": {"values": [0, 10, 20, 30, 40], "title": "DIBH"}}}},
        {"data": {"name": "f_pts"}, "mark": {"type": "point", "filled": true, "fill": "black", "stroke": "black", "strokeWidth": 1, "opacity": 1, "size": 52},
         "encoding": {
           "x": {"field": "fb", "type": "quantitative", "scale": {"domain": [0, 40], "nice": false}, "axis": null},
           "y": {"field": "dibh", "type": "quantitative", "scale": {"domain": [0, 40], "nice": false}, "axis": null},
           "shape": {"field": "group", "type": "nominal", "scale": {"domain": ["Tangential treatment", "Locoregional treatment"], "range": ["circle", "M-0.85,-0.85L0.85,0.85M-0.85,0.85L0.85,-0.85"]}, "legend": {"title": null, "encode": {"symbols": {"update": {"stroke": {"value": "black"}, "strokeWidth": {"value": 1}, "fill": {"value": "black"}}}}}}}},
        {"data": {"name": "f_line"}, "mark": {"type": "line", "opacity": 0},
         "encoding": {
           "x": {"field": "fb", "type": "quantitative", "scale": {"domain": [0, 40], "nice": false}, "axis": {"orient": "top", "domain": false, "ticks": false, "labels": false, "title": "(f)", "titleX": -50, "titleY": -5.8, "titleAlign": "left", "titleBaseline": "alphabetic", "titleAngle": 0, "titleFontSize": 13.5, "titleFontWeight": "bold"}},
           "y": {"field": "dibh", "type": "quantitative", "scale": {"domain": [0, 40], "nice": false}, "axis": null}}},
        {"data": {"name": "f_line"}, "mark": {"type": "line", "opacity": 0},
         "encoding": {
           "x": {"field": "fb", "type": "quantitative", "scale": {"domain": [0, 40], "nice": false}, "axis": {"orient": "top", "domain": false, "ticks": false, "labels": false, "title": "Lung V", "titleX": 143.3, "titleY": -14.3, "titleAlign": "right", "titleBaseline": "alphabetic", "titleAngle": 0, "titleFontSize": 18, "titleFontWeight": "bold"}},
           "y": {"field": "dibh", "type": "quantitative", "scale": {"domain": [0, 40], "nice": false}, "axis": null}}},
        {"data": {"name": "f_line"}, "mark": {"type": "line", "opacity": 0},
         "encoding": {
           "x": {"field": "fb", "type": "quantitative", "scale": {"domain": [0, 40], "nice": false}, "axis": {"orient": "top", "domain": false, "ticks": false, "labels": false, "title": "20%", "titleX": 145, "titleY": -3.3, "titleAlign": "left", "titleBaseline": "alphabetic", "titleAngle": 0, "titleFontSize": 14.5, "titleFontWeight": "bold"}},
           "y": {"field": "dibh", "type": "quantitative", "scale": {"domain": [0, 40], "nice": false}, "axis": null}}},
        {"data": {"name": "f_line"}, "mark": {"type": "line", "opacity": 0},
         "encoding": {
           "x": {"field": "fb", "type": "quantitative", "scale": {"domain": [0, 40], "nice": false}, "axis": {"orient": "top", "domain": false, "ticks": false, "labels": false, "title": "(%)", "titleX": 178, "titleY": -14.3, "titleAlign": "left", "titleBaseline": "alphabetic", "titleAngle": 0, "titleFontSize": 18, "titleFontWeight": "bold"}},
           "y": {"field": "dibh", "type": "quantitative", "scale": {"domain": [0, 40], "nice": false}, "axis": null}}}
      ]
    }
  ],
  "config": {
    "view": {"stroke": null},
    "font": "Liberation Sans",
    "axis": {
      "grid": false,
      "domainColor": "black", "domainWidth": 2.5, "domainCap": "square",
      "tickColor": "black", "tickWidth": 1.5, "tickSize": -4,
      "labelColor": "black", "labelFont": "Liberation Sans", "labelFontSize": 17,
      "labelFlush": false, "labelOverlap": false,
      "titleColor": "black", "titleFont": "Liberation Sans", "titleFontSize": 18, "titleFontWeight": "normal"
    },
    "axisX": {"labelPadding": 15, "titlePadding": 7},
    "axisY": {"labelPadding": 11.7, "titlePadding": 2},
    "legend": {
      "orient": "none", "legendX": 127.3, "legendY": 926.7, "direction": "horizontal",
      "strokeColor": "black", "strokeWidth": 2, "padding": 4,
      "labelFont": "Liberation Sans", "labelFontSize": 15.5, "labelColor": "black",
      "symbolSize": 52, "symbolOffset": 16.5, "labelOffset": 17.5, "columnPadding": 4
    }
  }
}
